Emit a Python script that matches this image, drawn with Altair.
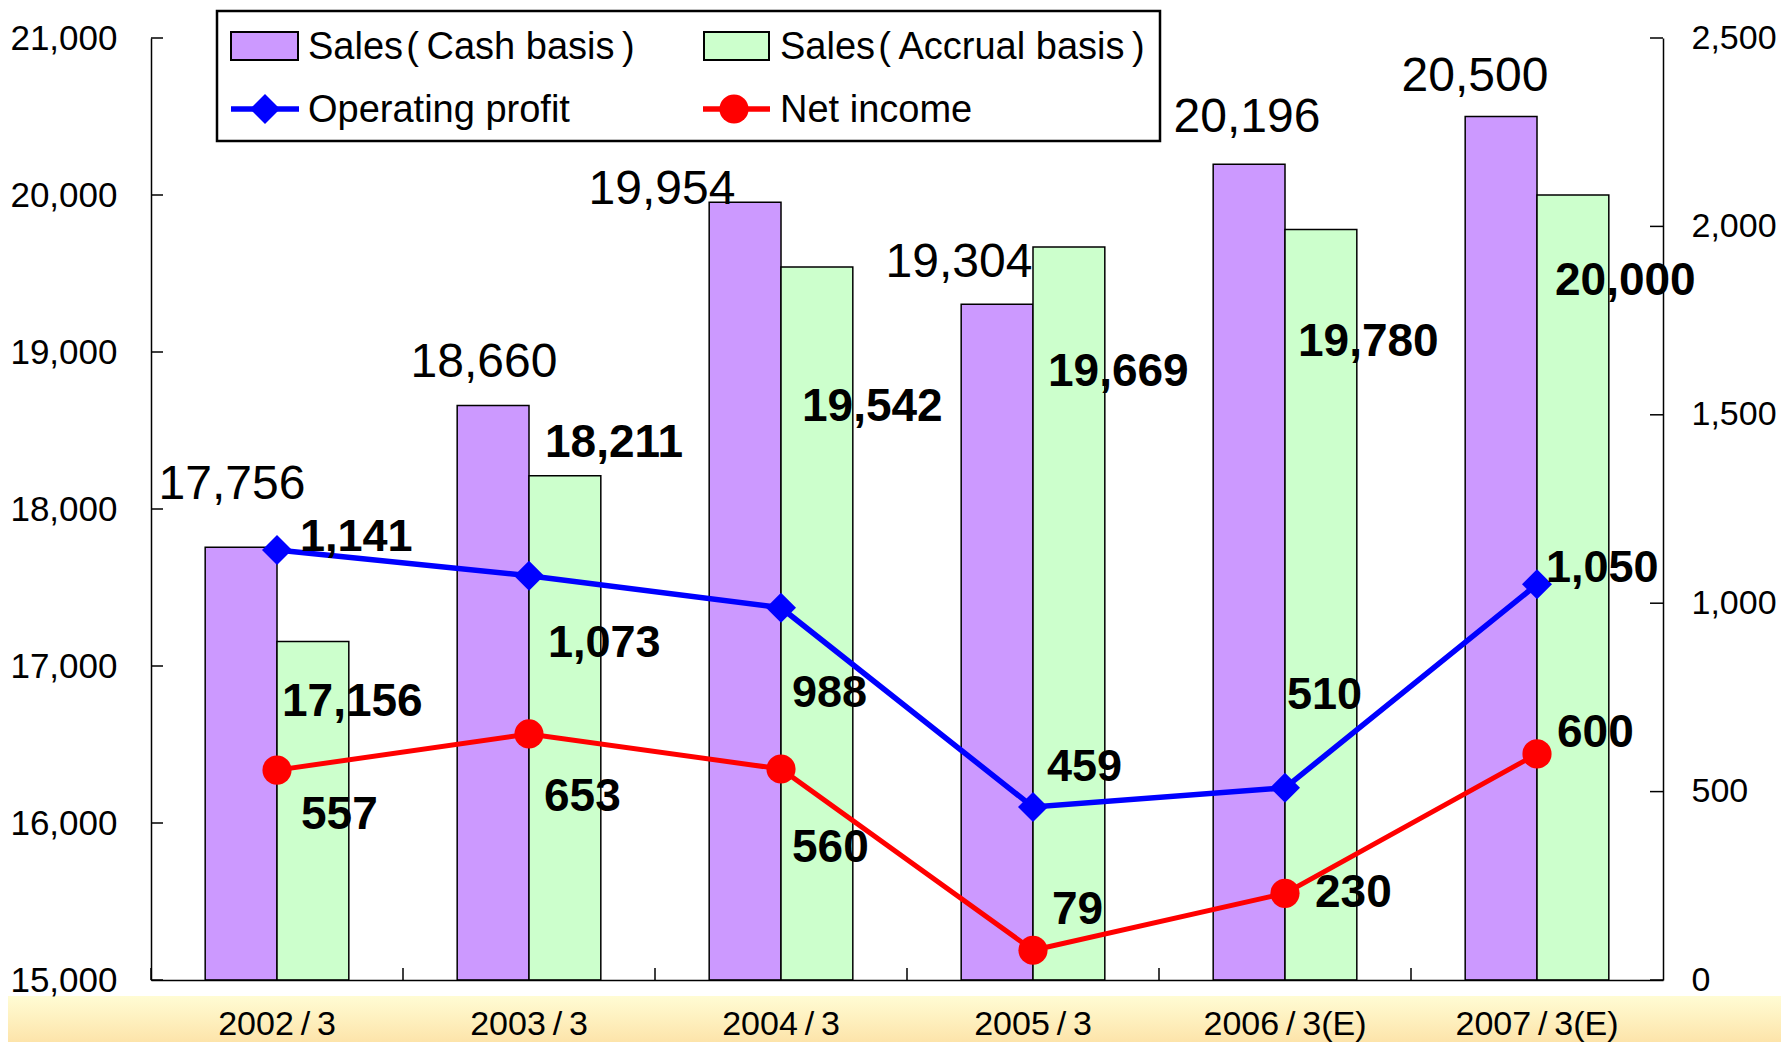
import altair as alt
import pandas as pd

# ---------------- data ----------------
categories = ["2002\u2009/\u20093", "2003\u2009/\u20093", "2004\u2009/\u20093", "2005\u2009/\u20093",
              "2006\u2009/\u20093(E)", "2007\u2009/\u20093(E)"]
sales_cash = [17756, 18660, 19954, 19304, 20196, 20500]
sales_accrual = [17156, 18211, 19542, 19669, 19780, 20000]
operating_profit = [1141, 1073, 988, 459, 510, 1050]
net_income = [557, 653, 560, 79, 230, 600]
left_ticks = [15000, 16000, 17000, 18000, 19000, 20000, 21000]
right_ticks = [0, 500, 1000, 1500, 2000, 2500]
series_names = ["Sales\u200a(\u2009Cash basis\u2009)", "Sales\u200a(\u2009Accrual basis\u2009)",
                "Operating profit", "Net income"]

# label nudges in pixels (dx, dy) relative to each data point / bar top (category centre)
cash_nudge = [(-45, -62), (-45, -42), (-119, -12), (-74, -41), (-38, -46), (-62, -40)]
accrual_nudge = [(5, 60), (16, -33), (21, 140), (15, 125), (13, 112), (18, 86)]
op_nudge = [(23, -13), (19, 67), (11, 85), (14, -40), (2, -93), (9, -16)]
net_nudge = [(24, 45), (15, 63), (11, 79), (19, -40), (30, 0), (20, -21)]

# ---------------- styles ----------------
W, H = 1512, 942
FONT = "Liberation Sans, Arial, Noto Sans CJK JP"
PURPLE, GREEN, BLUE, RED = "#CC99FF", "#CCFFCC", "#0000FF", "#FF0000"

xscale = alt.Scale(domain=categories, paddingInner=0.43, paddingOuter=0.215)
yL = alt.Scale(domain=[15000, 21000], zero=False, nice=False)
yR = alt.Scale(domain=[0, 2500], zero=True, nice=False)

axX = alt.Axis(labelFont=FONT, labelFontSize=34, labelColor="black", labelAngle=0,
               ticks=False, tickSize=0, labelPadding=44, labelBaseline="middle",
               domainColor="black", domainWidth=1.5, grid=False, zindex=1, title=None)
axL = alt.Axis(values=left_ticks, format=",.0f", labelFont=FONT, labelFontSize=35,
               labelColor="black", ticks=False, tickSize=0, labelPadding=34,
               grid=False, domainColor="black", domainWidth=1.5, zindex=1, title=None)
axR = alt.Axis(orient="right", values=right_ticks, format=",.0f", labelFont=FONT,
               labelFontSize=34, labelColor="black", ticks=False, tickSize=0,
               labelPadding=28, grid=False, domainColor="black", domainWidth=1.5,
               zindex=1, title=None)


def xenc():
    return alt.X("cat:N", scale=xscale, sort=categories, axis=axX, title=None)


def yenc(field, side):
    if side == "L":
        return alt.Y(field, scale=yL, axis=axL, title=None)
    return alt.Y(field, scale=yR, axis=axR, title=None)


one = pd.DataFrame({"a": [0]})

# ---------------- left-scale layers ----------------
bars_df = pd.DataFrame({
    "cat": categories * 2,
    "series": [series_names[0]] * 6 + [series_names[1]] * 6,
    "value": sales_cash + sales_accrual,
})

band = alt.Chart(one).mark_rect(
    fill=alt.Gradient(gradient="linear",
                      stops=[alt.GradientStop(color="#FFFCD4", offset=0),
                             alt.GradientStop(color="#FDE4AA", offset=1)],
                      x1=0, x2=0, y1=0, y2=1),
).encode(x=alt.value(-143), x2=alt.value(W + 118), y=alt.value(H + 16), y2=alt.value(H + 62))

bars = alt.Chart(bars_df).mark_bar(stroke="black", strokeWidth=1.5).encode(
    x=xenc(),
    xOffset=alt.XOffset("series:N", sort=series_names[:2],
                        scale=alt.Scale(domain=series_names[:2], paddingInner=0, paddingOuter=0)),
    y=yenc("value:Q", "L"),
    y2=alt.datum(15000),
    color=alt.Color("series:N", scale=alt.Scale(domain=series_names[:2], range=[PURPLE, GREEN]),
                    legend=None),
)

left_tick_rules = alt.Chart(pd.DataFrame({"value": left_ticks})).mark_rule(
    color="black", strokeWidth=1.5).encode(
    y=yenc("value:Q", "L"), x=alt.value(0), x2=alt.value(12))

x_tick_rules = alt.Chart(pd.DataFrame({"cat": categories})).mark_rule(
    color="black", strokeWidth=1.5, xOffset=-W / 12).encode(
    x=xenc(), y=alt.value(H - 12), y2=alt.value(H))


def labels(values, nudges, side, bold, size, align):
    layers = []
    for c, v, (dx, dy) in zip(categories, values, nudges):
        d = pd.DataFrame({"cat": [c], "value": [v]})
        layers.append(
            alt.Chart(d).mark_text(
                dx=dx, dy=dy, align=align, baseline="middle", font=FONT, fontSize=size,
                fontWeight="bold" if bold else "normal", color="black",
            ).encode(x=xenc(), y=yenc("value:Q", side),
                     text=alt.Text("value:Q", format=","))
        )
    return layers


left_layer = alt.layer(
    band, bars, left_tick_rules, x_tick_rules,
    *labels(sales_cash, cash_nudge, "L", False, 48, "center"),
    *labels(sales_accrual, accrual_nudge, "L", True, 46, "left"),
)

# ---------------- right-scale layers ----------------
op_df = pd.DataFrame({"cat": categories, "value": operating_profit})
net_df = pd.DataFrame({"cat": categories, "value": net_income})

op_line = alt.Chart(op_df).mark_line(color=BLUE, strokeWidth=5.5).encode(
    x=xenc(), y=yenc("value:Q", "R"))
op_pts = alt.Chart(op_df).mark_point(shape="diamond", filled=True, size=900, color=BLUE,
                                     opacity=1).encode(x=xenc(), y=yenc("value:Q", "R"))
net_line = alt.Chart(net_df).mark_line(color=RED, strokeWidth=5).encode(
    x=xenc(), y=yenc("value:Q", "R"))
net_pts = alt.Chart(net_df).mark_point(shape="circle", filled=True, size=850, color=RED,
                                       opacity=1).encode(x=xenc(), y=yenc("value:Q", "R"))

right_tick_rules = alt.Chart(pd.DataFrame({"value": right_ticks})).mark_rule(
    color="black", strokeWidth=1.5).encode(
    y=yenc("value:Q", "R"), x=alt.value(W - 13), x2=alt.value(W))

right_layer = alt.layer(
    op_line, net_line, op_pts, net_pts, right_tick_rules,
    *labels(operating_profit, op_nudge, "R", True, 45, "left"),
    *labels(net_income, net_nudge, "R", True, 46, "left"),
)

# ---------------- hand-made legend ----------------
legend_box = alt.Chart(one).mark_rect(fill="white", stroke="black", strokeWidth=2.5).encode(
    x=alt.value(66), x2=alt.value(1009), y=alt.value(-27), y2=alt.value(103))
sw1 = alt.Chart(one).mark_rect(fill=PURPLE, stroke="black", strokeWidth=2).encode(
    x=alt.value(80), x2=alt.value(147), y=alt.value(-6), y2=alt.value(22))
sw2 = alt.Chart(one).mark_rect(fill=GREEN, stroke="black", strokeWidth=2).encode(
    x=alt.value(553), x2=alt.value(618), y=alt.value(-6), y2=alt.value(22))
lg_op_line = alt.Chart(one).mark_rule(color=BLUE, strokeWidth=5.5).encode(
    x=alt.value(80), x2=alt.value(148), y=alt.value(71))
lg_op_pt = alt.Chart(one).mark_point(shape="diamond", filled=True, size=900, color=BLUE,
                                     opacity=1).encode(x=alt.value(114), y=alt.value(71))
lg_net_line = alt.Chart(one).mark_rule(color=RED, strokeWidth=5.5).encode(
    x=alt.value(552), x2=alt.value(619), y=alt.value(71))
lg_net_pt = alt.Chart(one).mark_point(shape="circle", filled=True, size=850, color=RED,
                                      opacity=1).encode(x=alt.value(583), y=alt.value(71))


def lg_text(txt, x, y):
    return alt.Chart(one).mark_text(text=txt, align="left", baseline="middle", font=FONT,
                                    fontSize=38, color="black").encode(
        x=alt.value(x), y=alt.value(y))


legend_layers = [legend_box, sw1, sw2, lg_op_line, lg_op_pt, lg_net_line, lg_net_pt,
                 lg_text(series_names[0], 157, 10), lg_text(series_names[1], 629, 10),
                 lg_text(series_names[2], 157, 73), lg_text(series_names[3], 629, 73)]

chart = alt.layer(left_layer, right_layer, *legend_layers).resolve_scale(
    y="independent"
).properties(
    width=W, height=H,
    padding={"left": 143, "top": 30, "right": 118, "bottom": 62},
    autosize=alt.AutoSizeParams(type="none"),
    background="white",
).configure_view(stroke=None)

chart.save("out.html", embed_options={"renderer": "svg", "actions": False})
